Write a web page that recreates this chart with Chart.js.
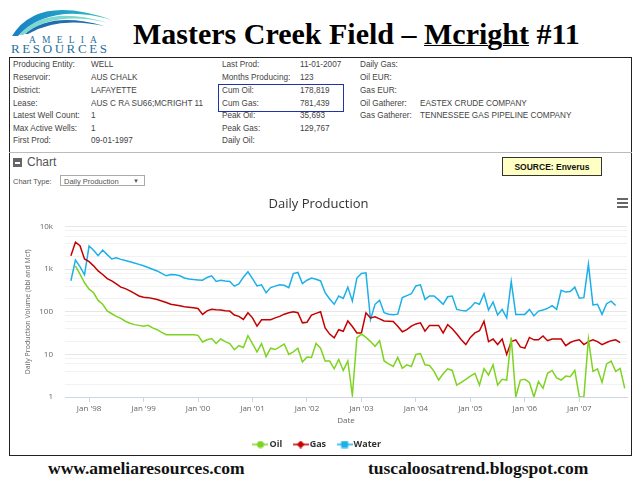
<!DOCTYPE html>
<html>
<head>
<meta charset="utf-8">
<script src="https://cdn.jsdelivr.net/npm/chart.js@4/dist/chart.umd.min.js"></script>
<style>
  body { margin: 0; background: #fff; }
  #page { position: relative; width: 640px; height: 481px; overflow: hidden; font-family: "Liberation Sans", Arial, sans-serif; }
  .abs { position: absolute; white-space: nowrap; }
  .info { font-size: 8.2px; color: #444; line-height: 10px; }
  #title { left: 133px; top: 17px; font-family: "Liberation Serif", serif; font-weight: bold; font-size: 30px; color: #000; }
  #title u { text-decoration: underline; text-decoration-thickness: 1px; }
  #frame { left: 9px; top: 57px; width: 621px; height: 397px; border: 1px solid #222; }
  .foot { font-family: "Liberation Serif", serif; font-weight: bold; font-size: 17.5px; color: #111; top: 458px; }
</style>
</head>
<body>
<div id="page">
  <svg class="abs" style="left:4px;top:0px" width="114" height="56">
    <defs>
      <linearGradient id="g1" x1="0" x2="1" y1="0" y2="0">
        <stop offset="0" stop-color="#1a7fc4"/>
        <stop offset="0.6" stop-color="#22a7c8"/>
        <stop offset="1" stop-color="#3cc6b4"/>
      </linearGradient>
    </defs>
    <path d="M8 36 Q34 -6 108 20 Q46 2 14 36 Z" fill="url(#g1)"/>
    <path d="M15 35 Q42 4 104 23 Q50 10 19 35 Z" fill="#7dd8cf"/>
    <path d="M21 34 Q48 11 100 26 Q54 16 24 34 Z" fill="#1f6fb0"/>
    <text x="25" y="43" font-family="Liberation Serif, serif" font-size="9.5" letter-spacing="6.2" fill="#2a6f9a">AMELIA</text>
    <text x="7" y="53" font-family="Liberation Serif, serif" font-size="13" letter-spacing="2.6" fill="#2a6f9a">RESOURCES</text>
  </svg>
  <div id="title" class="abs">Masters Creek Field – <u>Mcright</u> #11</div>
  <div id="frame" class="abs"></div>
  <div id="info"></div>
  <div class="abs" style="left:9px;top:152px;width:623px;height:1px;background:#bbb"></div>
  <div class="abs" style="left:218px;top:84px;width:124px;height:26px;border:1.5px solid #2233aa"></div>
  <div class="abs" style="left:13px;top:158px;width:9px;height:9px;background:#666"></div>
  <div class="abs" style="left:15px;top:162px;width:5px;height:1.5px;background:#fff"></div>
  <div class="abs" style="left:27px;top:155px;font-size:12px;color:#555">Chart</div>
  <div class="abs" style="left:13px;top:177px;font-size:7.5px;color:#555">Chart Type:</div>
  <div class="abs" style="left:60px;top:175px;width:85px;height:11px;border:1px solid #aaa;font-size:7.5px;color:#555;line-height:11px;padding-left:3px;box-sizing:border-box">Daily Production<span style="position:absolute;right:5px;font-size:6px">▼</span></div>
  <div class="abs" style="left:502px;top:157px;width:100px;height:19px;border:1px solid #333;background:#ffffc4;font-size:8.5px;font-weight:bold;color:#111;line-height:19px;text-align:center;box-sizing:border-box">SOURCE: Enverus</div>
  <div class="abs" style="left:617px;top:198px;width:11px;height:2px;background:#666"></div>
  <div class="abs" style="left:617px;top:202px;width:11px;height:2px;background:#666"></div>
  <div class="abs" style="left:617px;top:206px;width:11px;height:2px;background:#666"></div>
  <div class="abs" style="left:10px;top:190px;width:620px;height:264px">
    <canvas id="prod"></canvas>
  </div>
  <div class="abs foot" style="left:48px">www.ameliaresources.com</div>
  <div class="abs foot" style="left:368px">tuscaloosatrend.blogspot.com</div>
</div>
<script>
// info table: [label, value] per column
const infoCol1 = [["Producing Entity:", "WELL"], ["Reservoir:", "AUS CHALK"], ["District:", "LAFAYETTE"], ["Lease:", "AUS C RA SU66;MCRIGHT 11"], ["Latest Well Count:", "1"], ["Max Active Wells:", "1"], ["First Prod:", "09-01-1997"]];
const infoCol2 = [["Last Prod:", "11-01-2007"], ["Months Producing:", "123"], ["Cum Oil:", "178,819"], ["Cum Gas:", "781,439"], ["Peak Oil:", "35,693"], ["Peak Gas:", "129,767"], ["Daily Oil:", ""]];
const infoCol3 = [["Daily Gas:", ""], ["Oil EUR:", ""], ["Gas EUR:", ""], ["Oil Gatherer:", "EASTEX CRUDE COMPANY"], ["Gas Gatherer:", "TENNESSEE GAS PIPELINE COMPANY"], ["", ""], ["", ""]];

// monthly series, Sep 1997 (index 0) .. Nov 2007 (index 122)
const oil = [null, 1200, 770, 480, 340, 280, 185, 150, 105, 90, 78, 70, 60, 54, 50, 48, 46, 48, 42, 38,
  33, 29, 29, 29, 29, 29, 29, 29, 28, 19.6, 22, 23.5, 18, 23, 20, 18, 12.9, 16, 14.5, 27.5,
  18, 11.4, 18, 8.9, 14, 13, 15, 17.5, 10, 11.5, 14, 6.6, 8.7, 8.5, 18, 14, 7, 7, 4.6, 7.6,
  4.2, 7, 1.1, 24.5, 30, 25, 20, 15.5, 21, 7, 6, 5.2, 8.5, 4.7, 5.7, 5.2, 10, 10.5, 5.7, 5.5,
  4, 2.5, 3.5, 4.6, 4.2, 1.9, 2.2, 2.6, 3.1, 3.6, 1.9, 4.6, 3.3, 5.7, 1.9, 2.6, 2.5, 25, 1, 2.5,
  2.6, 2.2, 1, 2.3, 1.6, 3.6, 4.2, 2.8, 2.5, 3.1, 3, 4.2, 1, 1, 23, 4, 4.6, 2.2, 6, 7,
  4, 4.7, 1.6];
const gas = [2080, 4300, 3550, 1740, 1500, 1200, 910, 750, 600, 530, 450, 380, 350, 310, 270, 235, 220, 215, 205, 195,
  180, 165, 150, 145, 138, 132, 128, 124, 120, 87, 105, 115, 112, 110, 106, 104, 84, 78, 66, 95,
  72, 46, 65, 65, 65, 72, 78, 88, 95, 100, 95, 55, 57, 84, 92, 100, 42, 30, 24.4, 38,
  35, 61, 45, 32, 32, 95, 72, 76, 68, 61, 60, 59, 46, 34, 38, 46, 52, 55, 35, 48,
  48, 48, 32, 50, 40, 30, 22, 17, 25, 32, 36, 60, 20, 23, 17, 23, 10, 20, 22, 15,
  14, 25, 22, 22, 27, 21, 23, 23, 23, 16, 19, 21, 22, 17, 20, 22, 20, 17, 19, 21,
  22, 19, null];
const water = [535, 1640, 1150, 740, 3500, 2800, 2080, 2820, 2200, 1740, 1850, 1700, 1600, 1500, 1400, 1300, 1200, 1100, 1000, 910,
  800, 700, 750, 740, 700, 620, 590, 570, 560, 550, 640, 700, 515, 550, 530, 515, 400, 450, 650, 870,
  600, 405, 430, 280, 370, 400, 430, 420, 370, 790, 840, 460, 550, 620, 580, 530, 280, 200, 150, 235,
  205, 380, 178, 620, 790, 820, 66, 150, 186, 95, 88, 85, 88, 215, 240, 265, 405, 430, 195, 235,
  235, 190, 150, 225, 235, 114, 108, 104, 125, 165, 150, 265, 110, 170, 84, 114, 72, 515, 87, 87,
  87, 114, 80, 104, 110, 120, 140, 114, 320, 290, 300, 380, 208, 215, 1320, 145, 150, 87, 155, 178,
  140, null, null];

const xTickLabels = ["Jan '98", "Jan '99", "Jan '00", "Jan '01", "Jan '02", "Jan '03", "Jan '04", "Jan '05", "Jan '06", "Jan '07"];
const firstJan = 4; // index of Jan 1998 in the monthly series
const yTickLabels = { 1: "1", 10: "10", 100: "100", 1000: "1k", 10000: "10k" };

const rows = [65, 78, 91, 104, 116, 129, 141];
const cols = [[infoCol1, 13, 91], [infoCol2, 222, 300], [infoCol3, 360, 420]];
const infoBox = document.getElementById("info");
cols.forEach(function (c) {
  c[0].forEach(function (r, i) {
    [[r[0], c[1]], [r[1], c[2]]].forEach(function (t) {
      const d = document.createElement("div");
      d.className = "abs info";
      d.style.left = t[1] + "px";
      d.style.top = (rows[i] - 5) + "px";
      d.textContent = t[0];
      infoBox.appendChild(d);
    });
  });
});

function marker(color, shape) {
  const c = document.createElement("canvas");
  c.width = 16; c.height = 8;
  const g = c.getContext("2d");
  g.strokeStyle = color; g.fillStyle = color; g.lineWidth = 1.5;
  g.beginPath(); g.moveTo(0, 4); g.lineTo(16, 4); g.stroke();
  g.beginPath();
  if (shape === "circle") g.arc(8, 4, 3.5, 0, Math.PI * 2);
  if (shape === "diamond") { g.moveTo(8, 0); g.lineTo(12, 4); g.lineTo(8, 8); g.lineTo(4, 4); g.closePath(); }
  if (shape === "square") g.rect(4.5, 0.5, 7, 7);
  g.fill();
  return c;
}

function points(arr) {
  return arr.map(function (v, i) { return { x: i, y: v }; }).filter(function (p) { return p.y !== null; });
}

// keep the legend's wide item spacing without letting it eat the plot height
const legendHeight = {
  id: "legendHeight",
  afterInit: function (chart) {
    const fit = chart.legend.fit;
    chart.legend.fit = function () { fit.call(this); this.height = 28; };
  }
};

const tickFont = { family: "'Open Sans', sans-serif", size: 8 };

new Chart(document.getElementById("prod"), {
  type: "line",
  data: {
    datasets: [
      { label: "Oil", data: points(oil), borderColor: "#7ed321", pointStyle: marker("#7ed321", "circle") },
      { label: "Gas", data: points(gas), borderColor: "#c40000", pointStyle: marker("#c40000", "diamond") },
      { label: "Water", data: points(water), borderColor: "#1cb0e8", pointStyle: marker("#1cb0e8", "square") }
    ]
  },
  plugins: [legendHeight],
  options: {
    responsive: true,
    maintainAspectRatio: false,
    animation: false,
    elements: { line: { borderWidth: 1.5, tension: 0 }, point: { radius: 0, hoverRadius: 0 } },
    layout: { padding: { left: 0, right: 3, top: 0, bottom: 0 } },
    plugins: {
      tooltip: { enabled: false },
      title: {
        display: true, text: "Daily Production", color: "#333",
        font: { family: "'Open Sans', sans-serif", size: 13, weight: "normal" },
        padding: { top: 6, bottom: 15 }
      },
      legend: {
        position: "bottom",
        labels: {
          usePointStyle: true, color: "#333", padding: 14, boxHeight: 8,
          font: { family: "'Open Sans', sans-serif", size: 9, weight: "bold" }
        }
      }
    },
    scales: {
      x: {
        type: "linear", min: -1.3, max: 122.5,
        afterBuildTicks: function (s) {
          s.ticks = xTickLabels.map(function (_, k) { return { value: firstJan + 12 * k }; });
        },
        afterFit: function (s) { s.height = 29; },
        ticks: {
          color: "#666", font: tickFont, padding: 2, maxRotation: 0, autoSkip: false,
          callback: function (v) { return xTickLabels[(v - firstJan) / 12]; }
        },
        grid: { drawOnChartArea: false, color: "#ccd6eb", tickLength: 5 },
        border: { color: "#ccd6eb" },
        title: { display: true, text: "Date", color: "#666", font: tickFont, padding: { top: 2, bottom: 0 } }
      },
      y: {
        type: "logarithmic", min: 1, max: 10000,
        afterBuildTicks: function (s) {
          const t = [];
          [1, 10, 100, 1000].forEach(function (p) {
            [1, 2, 4, 6, 8].forEach(function (m) { t.push({ value: p * m }); });
          });
          t.push({ value: 10000 });
          s.ticks = t;
        },
        afterFit: function (s) { s.width = 55; },
        ticks: {
          color: "#666", font: tickFont, padding: 12, autoSkip: false,
          callback: function (v) { return yTickLabels[v] || ""; }
        },
        grid: {
          drawTicks: false,
          color: function (c) { return yTickLabels[c.tick && c.tick.value] ? "#e6e6e6" : "#f2f2f2"; }
        },
        border: { display: false },
        title: {
          display: true, text: "Daily Production Volume (bbl and Mcf)", color: "#666",
          font: { family: "'Open Sans', sans-serif", size: 7 }, padding: { top: 14, bottom: 4 }
        }
      }
    }
  }
});
</script>
</body>
</html>
